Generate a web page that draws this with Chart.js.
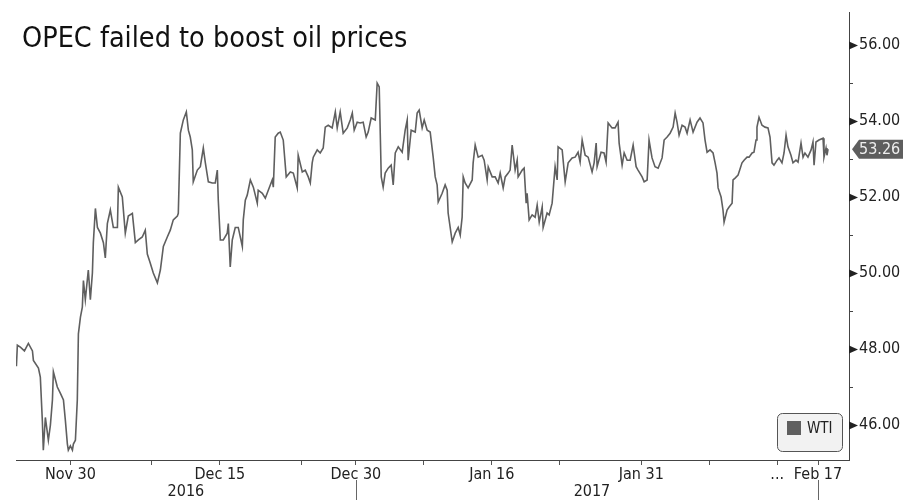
<!DOCTYPE html>
<html>
<head>
<meta charset="utf-8">
<title>OPEC failed to boost oil prices</title>
<script src="https://cdn.jsdelivr.net/npm/chart.js@4/dist/chart.umd.min.js"></script>
<style>
	body { margin: 0; background: #fff; }
	canvas { display: block; }
</style>
</head>
<body>
<canvas id="chart" width="903" height="500"></canvas>
<script>
	const title = 'OPEC failed to boost oil prices'
	const seriesName = 'WTI'

	// [trading session relative to Nov 30, price]
	const wti = [
		[-3.97, 47.55], [-3.90, 48.10], [-3.68, 48.05], [-3.38, 47.95], [-3.09, 48.15], [-2.79, 47.95], [-2.72, 47.70],
		[-2.35, 47.50], [-2.21, 47.26], [-2.06, 46.10], [-1.99, 45.34], [-1.84, 46.20], [-1.62, 45.60], [-1.47, 46.00],
		[-1.32, 46.66], [-1.25, 47.40], [-0.96, 47.00], [-0.74, 46.84], [-0.51, 46.66], [-0.37, 46.13], [-0.22, 45.50],
		[-0.15, 45.34], [0.00, 45.45], [0.15, 45.34], [0.22, 45.50], [0.37, 45.60], [0.51, 46.66], [0.59, 48.40],
		[0.74, 48.84], [0.88, 49.10], [0.96, 49.80], [1.10, 49.30], [1.32, 50.08], [1.47, 49.30], [1.62, 50.00],
		[1.69, 50.80], [1.84, 51.70], [1.99, 51.20], [2.21, 51.05], [2.43, 50.80], [2.57, 50.40], [2.72, 51.30],
		[2.94, 51.66], [3.16, 51.20], [3.46, 51.20], [3.53, 52.26], [3.82, 52.00], [4.04, 51.05], [4.26, 51.50],
		[4.56, 51.57], [4.78, 50.80], [5.00, 50.87], [5.29, 50.95], [5.51, 51.13], [5.66, 50.50], [5.88, 50.26],
		[6.10, 50.00], [6.40, 49.74], [6.62, 50.08], [6.84, 50.70], [7.13, 50.95], [7.35, 51.13], [7.57, 51.40],
		[7.87, 51.50], [7.94, 51.57], [8.09, 53.68], [8.31, 54.03], [8.53, 54.24], [8.68, 53.76], [8.82, 53.58],
		[8.97, 53.24], [9.04, 52.40], [9.34, 52.71], [9.56, 52.80], [9.78, 53.29], [9.93, 52.90], [10.15, 52.40],
		[10.44, 52.37], [10.66, 52.37], [10.81, 52.71], [10.88, 51.92], [11.03, 50.87], [11.25, 50.87], [11.54, 51.05],
		[11.62, 51.30], [11.76, 50.16], [11.91, 50.87], [12.13, 51.20], [12.35, 51.20], [12.65, 50.70], [12.72, 51.40],
		[12.87, 51.92], [13.01, 52.05], [13.24, 52.45], [13.46, 52.26], [13.75, 51.84], [13.82, 52.18], [14.12, 52.10],
		[14.34, 51.97], [14.56, 52.18], [14.85, 52.45], [14.93, 52.26], [15.07, 53.58], [15.29, 53.68], [15.44, 53.71],
		[15.66, 53.50], [15.88, 52.53], [16.18, 52.66], [16.40, 52.63], [16.69, 52.24], [16.76, 53.10], [17.06, 52.66],
		[17.28, 52.71], [17.50, 52.53], [17.65, 52.37], [17.79, 52.90], [17.87, 53.05], [18.16, 53.24], [18.38, 53.16],
		[18.60, 53.29], [18.75, 53.84], [18.97, 53.89], [19.26, 53.82], [19.49, 54.24], [19.63, 53.82], [19.85, 54.24],
		[20.07, 53.68], [20.37, 53.82], [20.59, 54.03], [20.74, 54.21], [20.88, 53.76], [21.10, 53.97], [21.32, 53.95],
		[21.54, 53.97], [21.76, 53.58], [21.91, 53.71], [22.13, 54.08], [22.43, 54.03], [22.57, 55.00], [22.72, 54.90],
		[22.87, 52.53], [23.01, 52.26], [23.16, 52.63], [23.38, 52.76], [23.60, 52.84], [23.75, 52.32], [23.90, 53.16],
		[24.12, 53.32], [24.41, 53.18], [24.63, 53.76], [24.78, 54.03], [24.85, 52.97], [25.07, 53.76], [25.37, 53.71],
		[25.51, 54.21], [25.66, 54.29], [25.88, 53.82], [26.03, 54.03], [26.25, 53.76], [26.47, 53.71], [26.69, 53.05],
		[26.84, 52.53], [26.98, 52.32], [27.06, 51.87], [27.35, 52.10], [27.57, 52.32], [27.72, 52.18], [27.79, 51.58],
		[27.94, 51.20], [28.09, 50.82], [28.31, 51.05], [28.53, 51.20], [28.68, 51.00], [28.82, 51.47], [28.90, 52.53],
		[29.04, 52.37], [29.26, 52.24], [29.56, 52.45], [29.63, 52.90], [29.78, 53.37], [30.00, 53.05], [30.29, 53.10],
		[30.44, 52.97], [30.66, 52.45], [30.74, 52.79], [31.03, 52.53], [31.25, 52.53], [31.47, 52.37], [31.62, 52.63],
		[31.84, 52.24], [31.99, 52.53], [32.21, 52.63], [32.35, 52.71], [32.50, 53.37], [32.57, 53.16], [32.72, 52.71],
		[32.87, 52.97], [32.94, 52.53], [33.24, 52.71], [33.38, 52.76], [33.53, 51.84], [33.60, 52.10], [33.75, 51.40],
		[33.97, 51.53], [34.19, 51.47], [34.34, 51.79], [34.49, 51.34], [34.71, 51.74], [34.78, 51.20], [35.07, 51.58],
		[35.22, 51.53], [35.44, 51.84], [35.66, 52.80], [35.81, 52.45], [35.88, 53.32], [36.18, 53.24], [36.40, 52.40],
		[36.62, 52.90], [36.91, 53.03], [37.13, 53.05], [37.35, 53.18], [37.50, 52.92], [37.65, 53.50], [37.87, 53.10],
		[38.09, 53.05], [38.38, 52.66], [38.53, 52.90], [38.68, 53.42], [38.75, 52.80], [39.04, 53.18], [39.26, 53.16],
		[39.41, 52.92], [39.56, 53.95], [39.85, 53.82], [40.07, 53.82], [40.29, 53.97], [40.37, 53.42], [40.59, 52.84],
		[40.74, 53.16], [40.96, 52.97], [41.18, 52.97], [41.40, 53.37], [41.62, 52.80], [41.76, 52.71], [42.06, 52.53],
		[42.21, 52.40], [42.43, 52.45], [42.57, 53.50], [42.79, 53.03], [43.01, 52.80], [43.24, 52.76], [43.53, 53.03],
		[43.68, 53.50], [43.90, 53.58], [44.12, 53.68], [44.34, 53.84], [44.49, 54.21], [44.63, 53.97], [44.78, 53.63],
		[45.00, 53.89], [45.22, 53.84], [45.37, 53.68], [45.59, 54.03], [45.81, 53.71], [46.10, 53.97], [46.32, 54.08],
		[46.54, 53.95], [46.69, 53.50], [46.84, 53.18], [47.06, 53.24], [47.28, 53.16], [47.43, 52.90], [47.57, 52.63],
		[47.65, 52.24], [47.87, 52.00], [48.01, 51.66], [48.09, 51.34], [48.31, 51.66], [48.46, 51.74], [48.68, 51.84],
		[48.75, 52.45], [48.90, 52.50], [49.12, 52.58], [49.41, 52.90], [49.56, 52.97], [49.78, 53.05], [49.93, 53.05],
		[50.15, 53.16], [50.29, 53.18], [50.44, 53.50], [50.51, 53.84], [50.66, 54.10], [50.88, 53.89], [51.10, 53.84],
		[51.32, 53.82], [51.47, 53.58], [51.62, 52.90], [51.76, 52.84], [51.99, 52.97], [52.13, 53.03], [52.35, 52.90],
		[52.50, 53.16], [52.65, 53.63], [52.79, 53.32], [53.01, 53.10], [53.16, 52.90], [53.38, 52.97], [53.53, 52.92],
		[53.75, 53.42], [53.90, 53.05], [54.04, 53.16], [54.26, 53.05], [54.49, 53.24], [54.63, 53.45], [54.71, 52.84],
		[54.85, 53.45], [55.07, 53.50], [55.37, 53.55], [55.44, 53.05], [55.59, 53.29], [55.66, 53.10], [55.74, 53.26]
	]

	const tickSessions = [0, 6, 11, 17, 21, 26, 31, 36, 42, 47, 52, 55]
	const tickLabels = ['Nov 30', '', 'Dec 15', '', 'Dec 30', '', 'Jan 16', '', 'Jan 31', '', '...', 'Feb 17']
	const yearBreaks = [21, 55]
	const years = ['2016', '2017']
	const priceTicks = [46, 47, 48, 49, 50, 51, 52, 53, 54, 55, 56]
	const lastPrice = 53.26

	const FONT = '"DejaVu Sans Condensed", "DejaVu Sans", sans-serif'
	const lineColor = '#5f5f5f'

	const decor = {
		id: 'decor',
		afterDraw(chart) {
			const { ctx, chartArea: a, scales } = chart
			const x = scales.x
			const y = scales.y
			ctx.save()

			// title
			ctx.fillStyle = '#111'
			ctx.font = '28.5px ' + FONT
			ctx.textBaseline = 'alphabetic'
			ctx.textAlign = 'left'
			ctx.fillText(title, 22, 47)

			// price axis marks: arrows on majors, dashes on minors
			ctx.fillStyle = '#222'
			ctx.strokeStyle = '#444'
			ctx.lineWidth = 1
			priceTicks.forEach((v) => {
				const py = Math.round(y.getPixelForValue(v)) + 0.5
				if (v % 2 === 0) {
					ctx.beginPath()
					ctx.moveTo(a.right, py - 4)
					ctx.lineTo(a.right + 9, py)
					ctx.lineTo(a.right, py + 4)
					ctx.closePath()
					ctx.fill()
				} else {
					ctx.beginPath()
					ctx.moveTo(a.right, py)
					ctx.lineTo(a.right + 4, py)
					ctx.stroke()
				}
			})

			// year separators and year labels
			ctx.strokeStyle = '#666'
			yearBreaks.forEach((s) => {
				const px = Math.round(x.getPixelForValue(s)) + 0.5
				ctx.beginPath()
				ctx.moveTo(px, a.bottom + 20)
				ctx.lineTo(px, chart.height)
				ctx.stroke()
			})
			const lastX = x.getPixelForValue(wti[wti.length - 1][0])
			const bounds = [a.left, x.getPixelForValue(yearBreaks[0]), lastX]
			ctx.fillStyle = '#222'
			ctx.font = '16px ' + FONT
			ctx.textAlign = 'center'
			ctx.textBaseline = 'middle'
			years.forEach((yr, i) => {
				ctx.fillText(yr, (bounds[i] + bounds[i + 1]) / 2, a.bottom + 32)
			})

			// last price tag
			const ty = y.getPixelForValue(lastPrice)
			ctx.fillStyle = '#5e5e5e'
			ctx.beginPath()
			ctx.moveTo(a.right + 3, ty)
			ctx.lineTo(a.right + 10, ty - 9.5)
			ctx.lineTo(chart.width, ty - 9.5)
			ctx.lineTo(chart.width, ty + 9.5)
			ctx.lineTo(a.right + 10, ty + 9.5)
			ctx.closePath()
			ctx.fill()
			ctx.fillStyle = '#eeeeee'
			ctx.textAlign = 'left'
			ctx.fillText(lastPrice.toFixed(2), a.right + 10, ty + 0.5)

			// legend box
			const lx = a.right - 72
			const ly = a.bottom - 47
			ctx.fillStyle = '#f2f2f2'
			ctx.strokeStyle = '#555'
			ctx.beginPath()
			ctx.roundRect(lx + 0.5, ly + 0.5, 65, 38, 5)
			ctx.fill()
			ctx.stroke()
			ctx.fillStyle = lineColor
			ctx.fillRect(lx + 10, ly + 8, 14, 14)
			ctx.fillStyle = '#222'
			ctx.font = '15px ' + FONT
			ctx.fillText(seriesName, lx + 30, ly + 16)

			ctx.restore()
		}
	}

	new Chart(document.getElementById('chart'), {
		type: 'line',
		data: {
			datasets: [{
				label: seriesName,
				data: wti.map((p) => ({ x: p[0], y: p[1] })),
				borderColor: lineColor,
				borderWidth: 1.6,
				pointRadius: 0,
				tension: 0,
				fill: false
			}]
		},
		options: {
			responsive: false,
			animation: false,
			devicePixelRatio: 1,
			layout: { padding: { left: 16, top: 12, right: 0, bottom: 0 } },
			plugins: {
				legend: { display: false },
				tooltip: { enabled: false }
			},
			scales: {
				x: {
					type: 'linear',
					min: -4,
					max: 57.28,
					afterBuildTicks: (scale) => {
						scale.ticks = tickSessions.map((v) => ({ value: v }))
					},
					afterFit: (scale) => { scale.height = 40 },
					ticks: {
						autoSkip: false,
						maxRotation: 0,
						padding: 0,
						color: '#222',
						font: { family: FONT, size: 16 },
						callback: (v) => tickLabels[tickSessions.indexOf(v)] || ''
					},
					grid: {
						drawOnChartArea: false,
						drawTicks: true,
						tickLength: 5,
						color: '#555'
					},
					border: { display: true, color: '#444' }
				},
				y: {
					position: 'right',
					min: 45.08,
					max: 56.87,
					afterBuildTicks: (scale) => {
						scale.ticks = priceTicks.map((v) => ({ value: v }))
					},
					afterFit: (scale) => { scale.width = 54 },
					ticks: {
						padding: 2,
						color: '#222',
						font: { family: FONT, size: 16 },
						callback: (v) => (v % 2 === 0 ? v.toFixed(2) : '')
					},
					grid: { display: false },
					border: { display: true, color: '#444' }
				}
			}
		},
		plugins: [decor]
	})
</script>
</body>
</html>
